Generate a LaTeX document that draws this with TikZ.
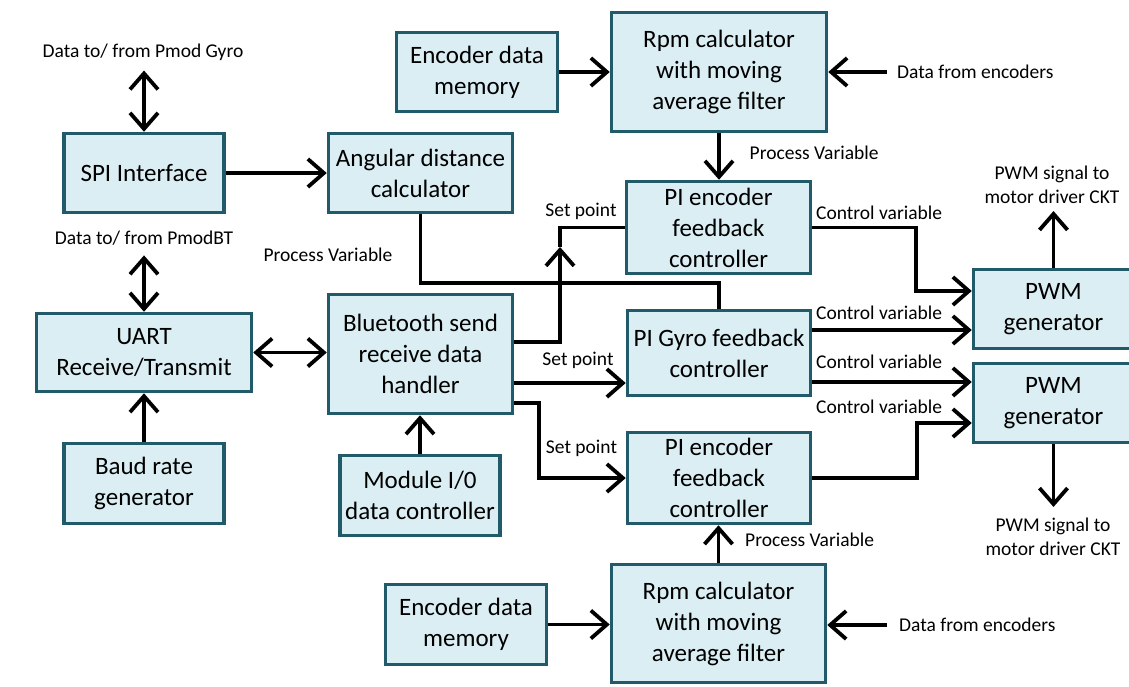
\documentclass[tikz,border=0pt]{standalone}
\usepackage{fontspec}
\setmainfont{Carlito}
\usetikzlibrary{positioning, arrows.meta, calc}
\definecolor{boxfill}{HTML}{DAEEF3}
\definecolor{boxedge}{HTML}{215A69}

\begin{document}
\begin{tikzpicture}[
    x=1pt, y=-1pt,
    >={Straight Barb[length=16pt, width=28pt]}, % Open chevron arrows
    % Styles
    block/.style={ % Processing block
        rectangle,
        draw=boxedge,
        fill=boxfill,
        line width=3.5pt,
        align=center,
        inner sep=2pt,
        font=\fontsize{25}{31}\selectfont
    },
    lbl/.style={ % Signal label
        font=\fontsize{19.5}{24}\selectfont,
        align=center,
        inner sep=0pt
    },
    wire/.style={
        line width=3.8pt
    },
    arrow/.style={
        wire,
        ->
    },
    dblarrow/.style={ % Two-way link
        arrow,
        <->
    }
]
    \useasboundingbox (0,0) rectangle (1129,686);

    % Processing blocks
    \node[block, minimum width=160pt, minimum height=79pt] (spi) at (144,173) {SPI Interface};
    \node[block, minimum width=184pt, minimum height=79pt] (ang) at (420.5,173) {Angular distance\\calculator};
    \node[block, minimum width=161pt, minimum height=79pt] (encA) at (477,72) {Encoder data\\memory};
    \node[block, minimum width=215pt, minimum height=119pt] (rpmA) at (719,72) {Rpm calculator\\with moving\\average filter};
    \node[block, minimum width=184pt, minimum height=92pt] (piA) at (718.5,227.5) {PI encoder\\feedback\\controller};
    \node[block, minimum width=215pt, minimum height=78pt] (uart) at (144,352.5) {UART\\Receive/Transmit};
    \node[block, minimum width=184pt, minimum height=119pt] (bt) at (420.5,354) {Bluetooth send\\receive data\\handler};
    \node[block, minimum width=160pt, minimum height=80pt] (baud) at (144,483.5) {Baud rate\\generator};
    \node[block, minimum width=160pt, minimum height=80pt] (mod) at (420,495.5) {Module I/0\\data controller};
    \node[block, minimum width=183pt, minimum height=85pt] (piG) at (719,353) {PI Gyro feedback\\controller};
    \node[block, minimum width=183pt, minimum height=91pt] (piB) at (719,478) {PI encoder\\feedback\\controller};
    \node[block, minimum width=160pt, minimum height=79pt] (pwmA) at (1053.5,309) {PWM\\generator};
    \node[block, minimum width=160pt, minimum height=79pt] (pwmB) at (1053.5,403) {PWM\\generator};
    \node[block, minimum width=214pt, minimum height=118pt] (rpmB) at (718.5,623.5) {Rpm calculator\\with moving\\average filter};
    \node[block, minimum width=161pt, minimum height=80pt] (encB) at (466,624.5) {Encoder data\\memory};

    % Signal labels
    \node[lbl] (gyro) at (143,52) {Data to/ from Pmod Gyro};
    \node[lbl] (btlink) at (144,238) {Data to/ from PmodBT};
    \node[lbl] (pvang) at (328,255) {Process Variable};
    \node[lbl, anchor=west] (dfeA) at (897,72) {Data from encoders};
    \node[lbl, anchor=west] (pvA) at (749.5,153) {Process Variable};
    \node[lbl] (spA) at (581,211) {Set point};
    \node[lbl, anchor=west] (cvA) at (816,213) {Control variable};
    \node[lbl] (pwmsigA) at (1052,185) {PWM signal to\\motor driver CKT};
    \node[lbl, anchor=west] (cvB) at (816,313) {Control variable};
    \node[lbl, anchor=west] (cvC) at (816,362) {Control variable};
    \node[lbl, anchor=west] (cvD) at (816,407) {Control variable};
    \node[lbl] (spB) at (578,360) {Set point};
    \node[lbl] (spC) at (581.5,448) {Set point};
    \node[lbl] (pwmsigB) at (1053,537) {PWM signal to\\motor driver CKT};
    \node[lbl, anchor=west] (pvB) at (745,540) {Process Variable};
    \node[lbl, anchor=west] (dfeB) at (899,625) {Data from encoders};

    % Gyro and bluetooth side
    \draw[dblarrow, shorten <=10pt] (spi.north |- gyro.south) -- (spi.north);
    \draw[arrow] (spi) -- (ang);
    \draw[wire] (ang.south) -- ++(0,69) -| (piG.north);
    \draw[dblarrow, shorten <=10pt] (uart.north |- btlink.south) -- (uart.north);
    \draw[dblarrow] (uart.east) -- (uart.east -| bt.west);
    \draw[arrow] (baud) -- (uart);
    \draw[arrow] (mod.north) -- (mod.north |- bt.south);

    % Encoder loops
    \draw[arrow] (encA) -- (rpmA);
    \draw[arrow, shorten <=10pt] (dfeA.west) -- (rpmA.east);
    \draw[arrow] (rpmA.south) -- (rpmA.south |- piA.north);
    \draw[arrow] (rpmB.north) -- (rpmB.north |- piB.south);
    \draw[arrow] (encB.east) -- (encB.east -| rpmB.west);
    \draw[arrow, shorten <=12pt] (dfeB.west) -- (dfeB.west -| rpmB.east);

    % Set points
    \coordinate (spTip) at (560,247);
    \draw[arrow] ([yshift=12pt]bt.east) -| (spTip);
    \draw[wire] (spTip) |- (piA.west);
    \draw[arrow] ([yshift=-29pt]bt.east) -- ([yshift=-29pt]bt.east -| piG.west);
    \draw[arrow] ([yshift=-49pt]bt.east) -- ++(25,0) |- (piB.west);

    % Control variables and PWM outputs
    \draw[arrow] (piA.east) -- ++(104,0) |- ([yshift=18pt]pwmA.west);
    \draw[arrow] ([yshift=-21pt]pwmA.west -| piG.east) -- ([yshift=-21pt]pwmA.west);
    \draw[arrow] ([yshift=21pt]pwmB.west -| piG.east) -- ([yshift=21pt]pwmB.west);
    \draw[arrow] (piB.east) -- ++(105,0) |- ([yshift=-20pt]pwmB.west);
    \draw[arrow, shorten >=7pt] (pwmA.north) -- (pwmA.north |- pwmsigA.south);
    \draw[arrow, shorten >=11pt] (pwmB.south) -- (pwmB.south |- pwmsigB.north);
\end{tikzpicture}
\end{document}
